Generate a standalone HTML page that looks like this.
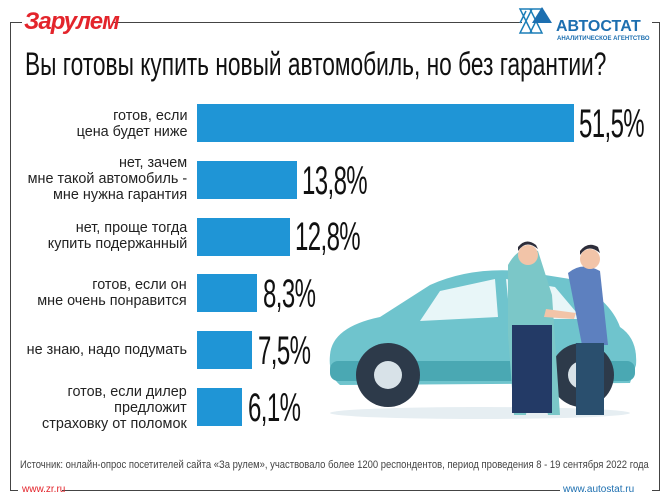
<!DOCTYPE html>
<html><head><meta charset="utf-8"><style>
html,body{margin:0;padding:0;background:#fff;}
body{width:670px;height:502px;position:relative;overflow:hidden;font-family:"Liberation Sans Narrow","Liberation Sans",sans-serif;}
.a{position:absolute;}
.lbl{position:absolute;right:483px;text-align:right;font-size:15px;line-height:16px;color:#222;white-space:nowrap;transform:scaleX(0.96);transform-origin:right center;}
.bar{position:absolute;left:197px;height:38px;background:#1f95d6;}
.pct{position:absolute;font-size:40px;color:#111;font-weight:300;transform:scaleX(0.6);transform-origin:left center;line-height:40px;letter-spacing:-1px;}
</style></head><body>
<div class="a" style="left:10px;top:22px;width:12px;height:1px;background:#444"></div>
<div class="a" style="left:112px;top:22px;width:410px;height:1px;background:#444"></div>
<div class="a" style="left:652px;top:22px;width:8px;height:1px;background:#444"></div>
<div class="a" style="left:10px;top:22px;width:1px;height:468px;background:#444"></div>
<div class="a" style="left:659px;top:22px;width:1px;height:468px;background:#444"></div>
<div class="a" style="left:62px;top:490px;width:498px;height:1px;background:#444"></div>
<div class="a" style="left:10px;top:490px;width:8px;height:1px;background:#444"></div>
<div class="a" style="left:652px;top:490px;width:8px;height:1px;background:#444"></div>
<div class="a" style="left:24px;top:8px;font-size:24px;font-weight:bold;font-style:italic;color:#e3242b;font-family:'Liberation Sans',sans-serif;letter-spacing:-1px">Зарулем</div>
<svg class="a" style="left:516px;top:5px" width="40" height="34"><g fill="none" stroke="#1d7fb8" stroke-width="1.5"><path d="M4 4h12l-6 12zM14 4h12l-6 12zM4 18l6-12M10 16l6 12H4zM20 16l6 12H14z"/></g><path d="M26 2l10 16H16z" fill="#1d6fb0"/></svg>
<div class="a" style="left:556px;top:18px;font-size:16px;font-weight:bold;color:#1d6fb0;font-family:'Liberation Sans',sans-serif">АВТОСТАТ</div>
<div class="a" style="left:557px;top:36px;font-size:6px;font-weight:bold;color:#1d6fb0;font-family:'Liberation Sans',sans-serif">АНАЛИТИЧЕСКОЕ АГЕНТСТВО</div>
<div class="a" style="left:25px;top:46px;font-size:32px;font-weight:300;color:#111;white-space:nowrap;transform:scaleX(0.71);transform-origin:left top;">Вы готовы купить новый автомобиль, но без гарантии?</div>

<svg class="a" style="left:320px;top:235px" width="340" height="190">
<ellipse cx="160" cy="178" rx="150" ry="6" fill="#e6eef2"/>
<path d="M10 120 Q12 92 60 82 L110 50 Q150 32 200 36 L250 44 Q290 64 300 92 Q318 104 316 130 L310 148 L20 150 Q8 140 10 120Z" fill="#6fc4cd"/>
<path d="M120 56 L175 44 L178 82 L100 86Z M186 44 L235 52 L262 84 L190 84Z" fill="#e8f6f8"/>
<rect x="10" y="126" width="305" height="20" rx="8" fill="#4aa8b3"/>
<circle cx="68" cy="140" r="32" fill="#2d3a4a"/><circle cx="68" cy="140" r="14" fill="#d8e2e8"/>
<circle cx="262" cy="140" r="32" fill="#2d3a4a"/><circle cx="262" cy="140" r="14" fill="#d8e2e8"/>
<path d="M188 30 Q200 8 218 16 L232 60 L240 180 L228 180 L214 110 L206 180 L194 180 L188 100Z" fill="#7bc7c8"/>
<rect x="192" y="90" width="40" height="88" fill="#233a66"/>
<circle cx="208" cy="20" r="10" fill="#f2c4a8"/><path d="M198 16 Q206 4 218 14 L216 10 Q206 2 198 12Z" fill="#2d2d3a"/>
<path d="M248 38 Q262 26 280 36 L288 110 L262 110Z" fill="#5d80bf"/>
<rect x="256" y="108" width="28" height="72" fill="#2a4f6e"/>
<circle cx="270" cy="24" r="10" fill="#f2c4a8"/><path d="M260 20 Q268 8 280 18 L278 12 Q268 6 260 16Z" fill="#2d2d3a"/>
<path d="M226 74 L256 78 L254 84 L224 82Z" fill="#f2c4a8"/>
</svg>

<div class="lbl" style="top:108px">готов, если<br>цена будет ниже</div>
<div class="bar" style="top:104px;width:377px"></div>
<div class="pct" style="left:579px;top:104px">51,5%</div>

<div class="lbl" style="top:155px">нет, зачем<br>мне такой автомобиль -<br>мне нужна гарантия</div>
<div class="bar" style="top:161px;width:100px"></div>
<div class="pct" style="left:302px;top:161px">13,8%</div>

<div class="lbl" style="top:220px">нет, проще тогда<br>купить подержанный</div>
<div class="bar" style="top:218px;width:93px"></div>
<div class="pct" style="left:295px;top:217px">12,8%</div>

<div class="lbl" style="top:277px">готов, если он<br>мне очень понравится</div>
<div class="bar" style="top:274px;width:60px"></div>
<div class="pct" style="left:263px;top:274px">8,3%</div>

<div class="lbl" style="top:342px">не знаю, надо подумать</div>
<div class="bar" style="top:331px;width:55px"></div>
<div class="pct" style="left:258px;top:331px">7,5%</div>

<div class="lbl" style="top:384px">готов, если дилер<br>предложит<br>страховку от поломок</div>
<div class="bar" style="top:388px;width:45px"></div>
<div class="pct" style="left:248px;top:388px">6,1%</div>

<div class="a" style="left:20px;top:459px;font-size:11px;color:#444;white-space:nowrap;transform:scaleX(0.86);transform-origin:left top;">Источник: онлайн-опрос посетителей сайта «За рулем», участвовало более 1200 респондентов, период проведения 8 - 19 сентября 2022 года</div>
<div class="a" style="left:22px;top:484px;font-size:10px;color:#e3242b;">www.zr.ru</div>
<div class="a" style="left:563px;top:484px;font-size:10px;color:#1d6fb0;">www.autostat.ru</div>
</body></html>
